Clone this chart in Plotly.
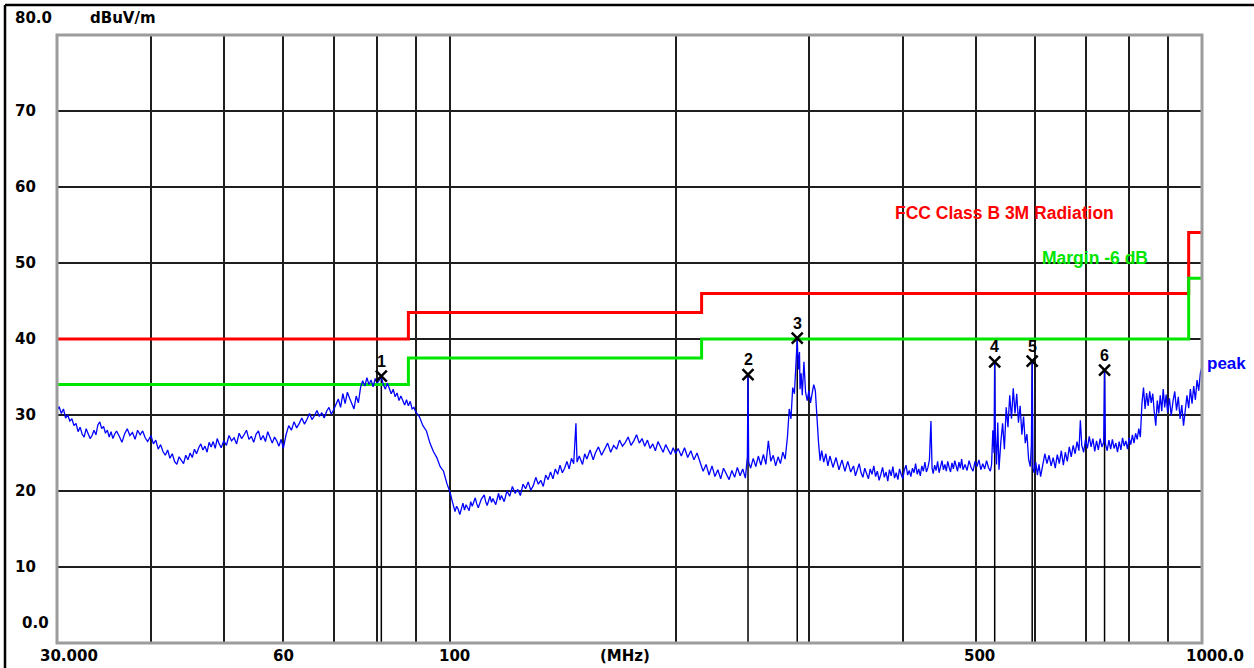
import math
import plotly.graph_objects as go

# ---------------- data ----------------
TRACE_30_60 = [
    (30.0, 30.6), (30.2, 31.1), (30.4, 30.2), (30.6, 30.8), (30.8, 29.6), (31.0, 30.0),
    (31.2, 29.2), (31.4, 29.5), (31.6, 28.6), (31.8, 28.9), (32.0, 27.8), (32.2, 28.4),
    (32.4, 27.5), (32.6, 27.1), (32.8, 28.2), (33.0, 27.6), (33.2, 26.9), (33.4, 27.3),
    (33.6, 28.0), (33.8, 27.4), (34.0, 28.7), (34.2, 29.1), (34.4, 28.2), (34.6, 28.5),
    (34.8, 27.6), (35.0, 28.0), (35.2, 27.1), (35.4, 27.8), (35.6, 26.9), (35.8, 27.5),
    (36.0, 27.9), (36.3, 27.2), (36.6, 26.4), (36.9, 27.5), (37.2, 28.2), (37.5, 27.3),
    (37.8, 27.7), (38.1, 26.8), (38.4, 28.0), (38.7, 27.4), (39.0, 27.9), (39.3, 27.0),
    (39.6, 26.5), (40.0, 27.3), (40.3, 26.2), (40.6, 26.7), (40.9, 25.5), (41.2, 26.1),
    (41.5, 25.2), (41.8, 24.7), (42.1, 25.4), (42.4, 24.3), (42.7, 24.9), (43.0, 23.9),
    (43.3, 23.5), (43.6, 24.5), (43.9, 24.0), (44.2, 23.6), (44.5, 24.7), (44.8, 24.1),
    (45.1, 25.0), (45.4, 24.4), (45.7, 25.5), (46.0, 24.9), (46.3, 25.7), (46.6, 26.2),
    (46.9, 25.4), (47.2, 25.9), (47.5, 25.1), (47.8, 26.4), (48.1, 25.8), (48.4, 26.5),
    (48.7, 25.6), (49.0, 26.9), (49.3, 26.2), (49.6, 25.7), (50.0, 26.6), (50.4, 26.0),
    (50.8, 27.3), (51.2, 26.6), (51.6, 27.0), (52.0, 26.2), (52.4, 27.6), (52.8, 26.9),
    (53.2, 27.4), (53.6, 28.0), (54.0, 26.8), (54.4, 27.2), (54.8, 26.4), (55.2, 27.5),
    (55.6, 27.9), (56.0, 26.7), (56.4, 27.3), (56.8, 26.5), (57.2, 27.8), (57.6, 26.9),
    (58.0, 26.3), (58.4, 27.1), (58.8, 26.6), (59.2, 25.9), (59.6, 26.8), (60.0, 25.6),
]
TRACE_60_100 = [
    (60.5, 27.4), (61.0, 28.6), (61.5, 28.0), (62.0, 29.1), (62.5, 28.3), (63.0, 28.9),
    (63.5, 29.6), (64.0, 28.8), (64.5, 29.4), (65.0, 30.2), (65.5, 29.4), (66.0, 29.9),
    (66.5, 30.6), (67.0, 29.8), (67.5, 30.3), (68.0, 29.6), (68.5, 30.5), (69.0, 31.0),
    (69.5, 30.1), (70.0, 30.7), (70.5, 31.4), (71.0, 32.1), (71.5, 31.0), (72.0, 32.8),
    (72.5, 31.5), (73.0, 33.0), (73.5, 32.2), (74.0, 31.6), (74.5, 30.8), (75.0, 32.5),
    (75.5, 31.6), (76.0, 33.6), (76.5, 34.5), (77.0, 33.8), (77.5, 34.9), (78.0, 34.0),
    (78.5, 34.6), (79.0, 33.7), (79.5, 34.8), (80.0, 34.2), (80.5, 34.7), (81.0, 35.0),
    (81.5, 34.0), (82.0, 33.4), (82.5, 34.2), (83.0, 33.6), (83.5, 32.8), (84.0, 33.4),
    (84.5, 32.4), (85.0, 32.9), (85.5, 31.9), (86.0, 32.5), (86.5, 32.0), (87.0, 31.3),
    (87.5, 32.0), (88.0, 31.2), (88.5, 31.8), (89.0, 30.8), (89.5, 31.0), (90.0, 30.4),
    (91.0, 29.8), (92.0, 28.6), (93.0, 27.9), (94.0, 26.3), (95.0, 25.2), (96.0, 24.4),
    (97.0, 23.2), (98.0, 22.6), (99.0, 21.0), (100.0, 19.8),
]
TRACE_100_200 = [
    (100.5, 18.9), (101, 18.1), (101.5, 17.3), (102, 18.0), (102.5, 17.6), (103, 16.9),
    (103.5, 17.8), (104, 18.4), (104.5, 17.5), (105, 18.2), (106, 17.4), (106.5, 18.6),
    (107, 18.0), (108, 19.1), (108.5, 18.3), (109, 17.8), (110, 18.9), (111, 19.5),
    (111.5, 18.6), (112, 18.1), (113, 19.3), (113.5, 18.5), (114, 19.0), (115, 18.2),
    (116, 19.7), (116.5, 18.8), (117, 19.4), (118, 18.6), (119, 20.0), (120, 19.3),
    (121, 20.6), (122, 19.7), (123, 20.2), (124, 19.4), (125, 20.9), (126, 20.3),
    (127, 21.2), (128, 20.1), (129, 20.7), (130, 21.8), (131, 20.9), (132, 21.4),
    (133, 20.6), (134, 22.1), (135, 21.5), (136, 22.5), (137, 21.6), (138, 22.9),
    (139, 22.2), (140, 23.4), (141, 22.4), (142, 23.0), (143, 23.9), (144, 22.9),
    (145, 24.3), (146, 23.6), (147, 28.9), (147.5, 23.8), (148.5, 24.6), (150, 23.5),
    (151, 24.9), (152, 24.2), (153.5, 25.4), (155, 24.1), (156, 25.0), (157.5, 25.8),
    (159, 24.7), (160.5, 25.6), (162, 26.3), (163.5, 25.1), (165, 26.0), (166.5, 25.5),
    (168, 26.7), (169.5, 25.9), (171, 26.4), (172.5, 27.1), (174, 26.0), (175.5, 26.6),
    (177, 27.4), (178.5, 26.3), (180, 26.9), (181.5, 25.9), (183, 26.7), (184.5, 25.6),
    (186, 26.2), (187.5, 25.3), (189, 26.5), (190.5, 25.8), (192, 25.1), (193.5, 26.1),
    (195, 25.4), (196.5, 24.8), (198, 25.7), (199.5, 24.9), (201, 25.6),
]
TRACE_200_340 = [
    (203, 24.6), (205, 25.7), (207, 24.4), (209, 25.3), (211, 24.1), (213, 25.0),
    (215, 23.8), (217, 22.6), (219, 23.5), (221, 22.1), (223, 23.3), (225, 21.9),
    (227, 22.8), (229, 21.6), (231, 23.0), (233, 22.2), (235, 21.5), (237, 22.7),
    (239, 21.8), (241, 23.1), (243, 22.0), (245, 22.9), (247, 21.7), (248.5, 24.5),
    (249, 35.2), (249.5, 23.8), (251, 23.0), (253, 24.3), (255, 23.2), (257, 24.6),
    (259, 23.4), (261, 24.8), (263, 23.5), (265, 26.6), (267, 23.9), (269, 24.7),
    (271, 23.3), (273, 24.5), (275, 23.6), (277, 25.1), (279, 24.2), (281, 27.2),
    (282.5, 30.8), (284, 29.5), (285.5, 33.6), (287, 32.8), (288, 36.5), (289.5, 40.0),
    (290.5, 36.0), (291.5, 38.3), (292, 33.4), (293, 35.5), (294, 32.6), (295.5, 37.0),
    (297, 33.0), (298.5, 31.9), (300, 33.2), (301.5, 31.6), (303, 32.8), (304.5, 34.0),
    (306, 33.2), (307.5, 29.0), (309, 26.4), (310.5, 24.0), (312, 25.3), (314, 23.8),
    (316, 24.9), (318, 23.3), (320, 24.6), (323, 23.1), (326, 24.4), (329, 22.8),
    (332, 24.1), (335, 22.6), (338, 23.9), (341, 22.5),
]
TRACE_340_600 = [
    (344, 23.3), (346, 22.0), (348, 22.8), (350, 23.6), (352, 22.4), (354, 21.8),
    (356, 23.0), (358, 22.3), (360, 21.6), (362, 22.9), (364, 22.2), (366, 23.3),
    (368, 21.9), (370, 22.6), (372, 21.4), (374, 22.2), (376, 23.1), (378, 21.8),
    (380, 22.5), (382, 21.3), (384, 22.8), (386, 22.0), (388, 23.2), (390, 21.7),
    (392, 22.4), (394, 21.5), (396, 22.9), (398, 22.2), (400, 21.6), (402, 22.8),
    (404, 23.4), (406, 22.1), (408, 22.7), (410, 21.9), (412, 23.0), (414, 22.4),
    (416, 23.6), (418, 22.2), (420, 22.9), (422, 22.0), (424, 23.3), (426, 22.6),
    (428, 23.8), (430, 22.5), (432, 23.1), (434, 24.1), (436, 29.2), (437.5, 23.0),
    (439, 22.3), (441, 23.4), (443, 22.7), (445, 23.9), (447, 22.4), (449, 23.2),
    (451, 24.0), (453, 22.8), (455, 23.5), (457, 22.6), (459, 23.9), (461, 23.1),
    (463, 22.5), (465, 23.7), (467, 22.9), (469, 24.0), (471, 23.2), (473, 22.6),
    (475, 23.8), (477, 23.0), (479, 24.2), (481, 22.8), (484, 23.5), (487, 22.7),
    (490, 24.0), (493, 23.1), (496, 22.6), (499, 23.9), (502, 23.2), (505, 24.1),
    (508, 22.8), (511, 23.6), (514, 22.9), (517, 24.0), (520, 23.1), (523, 22.6),
    (525, 23.5), (527, 28.0), (529, 25.0), (530, 37.0), (531, 27.5), (533, 23.5),
    (535, 29.0), (537, 22.8), (540, 26.4), (543, 28.9), (546, 25.5), (549, 31.0),
    (552, 28.4), (555, 32.6), (558, 29.5), (561, 33.5), (564, 30.2), (567, 32.8),
    (570, 29.0), (573, 31.2), (576, 27.4), (579, 29.8), (582, 26.3), (585, 27.5),
    (588, 24.2), (591, 23.2), (593, 26.0), (594.5, 37.1), (596, 23.0), (598, 22.4),
]
TRACE_600_1000 = [
    (601, 23.8), (604, 22.1), (607, 23.5), (610, 21.9), (614, 23.4), (618, 24.9),
    (622, 23.6), (626, 24.7), (630, 23.3), (634, 24.4), (638, 23.0), (642, 24.8),
    (646, 23.6), (650, 25.3), (654, 23.4), (658, 25.1), (662, 23.9), (666, 25.8),
    (670, 24.5), (674, 26.0), (678, 24.9), (682, 26.5), (686, 25.3), (689, 29.3),
    (692, 26.0), (696, 25.1), (700, 26.8), (704, 25.6), (708, 27.2), (712, 25.8),
    (716, 26.9), (720, 25.2), (724, 26.6), (728, 25.4), (732, 26.9), (736, 25.8),
    (740, 26.4), (742, 35.9), (744, 26.2), (748, 25.3), (752, 26.7), (756, 25.5),
    (760, 26.8), (764, 25.6), (768, 26.3), (772, 25.1), (776, 26.5), (780, 25.4),
    (784, 27.0), (788, 25.9), (792, 26.6), (796, 25.5), (800, 27.0), (804, 26.1),
    (808, 27.4), (812, 26.3), (816, 27.6), (820, 26.8), (824, 28.2), (828, 27.1),
    (832, 31.5), (836, 33.6), (840, 30.8), (844, 32.9), (848, 31.2), (852, 33.1),
    (856, 31.6), (860, 32.8), (864, 30.4), (868, 28.6), (872, 31.9), (876, 30.2),
    (880, 32.6), (884, 30.5), (888, 33.4), (892, 31.0), (896, 32.7), (900, 30.3),
    (905, 32.2), (910, 29.9), (915, 31.8), (920, 33.1), (925, 30.6), (930, 32.4),
    (935, 29.5), (940, 31.3), (945, 28.6), (950, 30.8), (955, 32.6), (960, 30.9),
    (965, 33.4), (970, 31.5), (975, 33.8), (980, 32.0), (985, 34.6), (990, 33.2),
    (995, 35.5), (1000, 36.4),
]

# FCC Class B 3 m limit and the -6 dB margin line (step functions)
LIMIT_FREQ = [30, 88, 216, 960, 1000]
LIMIT_LEVEL = [40.0, 43.5, 46.0, 54.0, 54.0]
MARGIN_LEVEL = [34.0, 37.5, 40.0, 48.0, 48.0]

# Markers
MARKER_FREQ = [81.0, 249.0, 289.5, 530.0, 594.5, 742.0]
MARKER_LEVEL = [35.1, 35.3, 40.1, 37.0, 37.1, 35.9]
MARKER_LABEL = ["1", "2", "3", "4", "5", "6"]

# Axis grid / labels
X_GRID = [40, 50, 60, 70, 80, 90, 100, 200, 300, 400, 500, 600, 700, 800, 900]
Y_GRID = [10, 20, 30, 40, 50, 60, 70]
Y_LABELS = ["10", "20", "30", "40", "50", "60", "70"]
X_LABEL_FREQ = [30, 60, 100, 500, 1000]
X_LABEL_TEXT = ["30.000", "60", "100", "500", "1000.0"]
X_LABEL_SHIFT = [12, 0, 4, 4, 13]

# ---------------- figure ----------------
W, H = 1254, 668
L, R, T, B = 57, 52, 35, 25
PW, PH = W - L - R, H - T - B


def px_to_paper_x(px):
    return (px - L) / PW


def px_to_paper_y(py):
    return (H - B - py) / PH


trace_pts = TRACE_30_60 + TRACE_60_100 + TRACE_100_200 + TRACE_200_340 + TRACE_340_600 + TRACE_600_1000
tf = [p[0] for p in trace_pts]
tl = [p[1] for p in trace_pts]

fig = go.Figure()

# marker vertical lines
mx, my = [], []
for f, lv in zip(MARKER_FREQ, MARKER_LEVEL):
    mx += [f, f, None]
    my += [0, lv, None]
fig.add_trace(go.Scatter(x=mx, y=my, mode="lines", line=dict(color="black", width=1.5),
                         hoverinfo="skip"))

fig.add_trace(go.Scatter(x=LIMIT_FREQ, y=LIMIT_LEVEL, mode="lines",
                         line=dict(color="#ff0000", width=3, shape="hv")))
fig.add_trace(go.Scatter(x=LIMIT_FREQ, y=MARGIN_LEVEL, mode="lines",
                         line=dict(color="#00e600", width=3, shape="hv")))

fig.add_trace(go.Scatter(x=tf, y=tl, mode="lines", line=dict(color="#0000ff", width=1.3)))

fig.add_trace(go.Scatter(x=MARKER_FREQ, y=MARKER_LEVEL, mode="markers",
                         marker=dict(symbol="x-thin", size=11,
                                     line=dict(color="black", width=2.5))))

annotations = []
axis_font = dict(family="DejaVu Sans", size=15, color="black")
for v, t in zip(Y_GRID, Y_LABELS):
    annotations.append(dict(x=px_to_paper_x(13), xref="paper", y=v, yref="y", text="<b>%s</b>" % t,
                            showarrow=False, xanchor="left", yanchor="middle", font=axis_font))
annotations.append(dict(x=px_to_paper_x(13), xref="paper", y=px_to_paper_y(18), yref="paper",
                        text="<b>80.0</b>", showarrow=False, xanchor="left", yanchor="middle",
                        font=axis_font))
annotations.append(dict(x=px_to_paper_x(51), xref="paper", y=px_to_paper_y(623), yref="paper",
                        text="<b>0.0</b>", showarrow=False, xanchor="right", yanchor="middle",
                        font=axis_font))
annotations.append(dict(x=px_to_paper_x(88), xref="paper", y=px_to_paper_y(18), yref="paper",
                        text="<b>dBuV/m</b>", showarrow=False, xanchor="left", yanchor="middle",
                        font=axis_font))
for f, t, s in zip(X_LABEL_FREQ, X_LABEL_TEXT, X_LABEL_SHIFT):
    annotations.append(dict(x=math.log10(f), xref="x", xshift=s, y=px_to_paper_y(656), yref="paper",
                            text="<b>%s</b>" % t, showarrow=False, xanchor="center",
                            yanchor="middle", font=axis_font))
annotations.append(dict(x=px_to_paper_x(625), xref="paper", y=px_to_paper_y(656), yref="paper",
                        text="<b>(MHz)</b>", showarrow=False, xanchor="center", yanchor="middle",
                        font=axis_font))

for f, lv, lab in zip(MARKER_FREQ, MARKER_LEVEL, MARKER_LABEL):
    annotations.append(dict(x=math.log10(f), xref="x", y=lv, yref="y", yshift=15,
                            text="<b>%s</b>" % lab, showarrow=False, xanchor="center",
                            yanchor="middle",
                            font=dict(family="Liberation Sans", size=16, color="black")))

annotations.append(dict(x=px_to_paper_x(893), xref="paper", y=px_to_paper_y(213), yref="paper",
                        text="<b>FCC Class B 3M Radiation</b>", showarrow=False, xanchor="left",
                        yanchor="middle",
                        font=dict(family="Liberation Sans", size=17.5, color="#ff0000")))
annotations.append(dict(x=px_to_paper_x(1040), xref="paper", y=px_to_paper_y(258), yref="paper",
                        text="<b>Margin -6 dB</b>", showarrow=False, xanchor="left", yanchor="middle",
                        font=dict(family="Liberation Sans", size=17.5, color="#00e600")))
annotations.append(dict(x=px_to_paper_x(1205), xref="paper", y=px_to_paper_y(363), yref="paper",
                        text="<b>peak</b>", showarrow=False, xanchor="left", yanchor="middle",
                        font=dict(family="Liberation Sans", size=17, color="#0000ff")))

shapes = [
    dict(type="rect", xref="paper", yref="paper", x0=0, x1=1, y0=0, y1=1,
         line=dict(color="#9c9c9c", width=3), layer="above"),
    dict(type="line", xref="paper", yref="paper", x0=px_to_paper_x(5), x1=px_to_paper_x(1260),
         y0=px_to_paper_y(5), y1=px_to_paper_y(5), line=dict(color="black", width=2.5)),
    dict(type="line", xref="paper", yref="paper", x0=px_to_paper_x(5), x1=px_to_paper_x(5),
         y0=px_to_paper_y(5), y1=px_to_paper_y(680), line=dict(color="black", width=2.5)),
]

fig.update_layout(
    width=W, height=H, autosize=False,
    margin=dict(l=L, r=R, t=T, b=B, pad=0),
    paper_bgcolor="white", plot_bgcolor="white",
    showlegend=False,
    xaxis=dict(type="log", range=[math.log10(30), math.log10(1000)], tickvals=X_GRID,
               showticklabels=False, ticks="", showgrid=True, gridcolor="#1e1e1e", gridwidth=1.5,
               zeroline=False, showline=False),
    yaxis=dict(range=[0, 80], tickvals=Y_GRID, showticklabels=False, ticks="", showgrid=True,
               gridcolor="#1e1e1e", gridwidth=1.5, zeroline=False, showline=False),
    annotations=annotations,
    shapes=shapes,
)

# remove the browser's default page margin so the figure sits at the window's top-left corner
fig.write_html("out.html",
               config={"displayModeBar": False},
               post_script="document.body.style.margin='0';document.body.style.overflow='hidden';")
